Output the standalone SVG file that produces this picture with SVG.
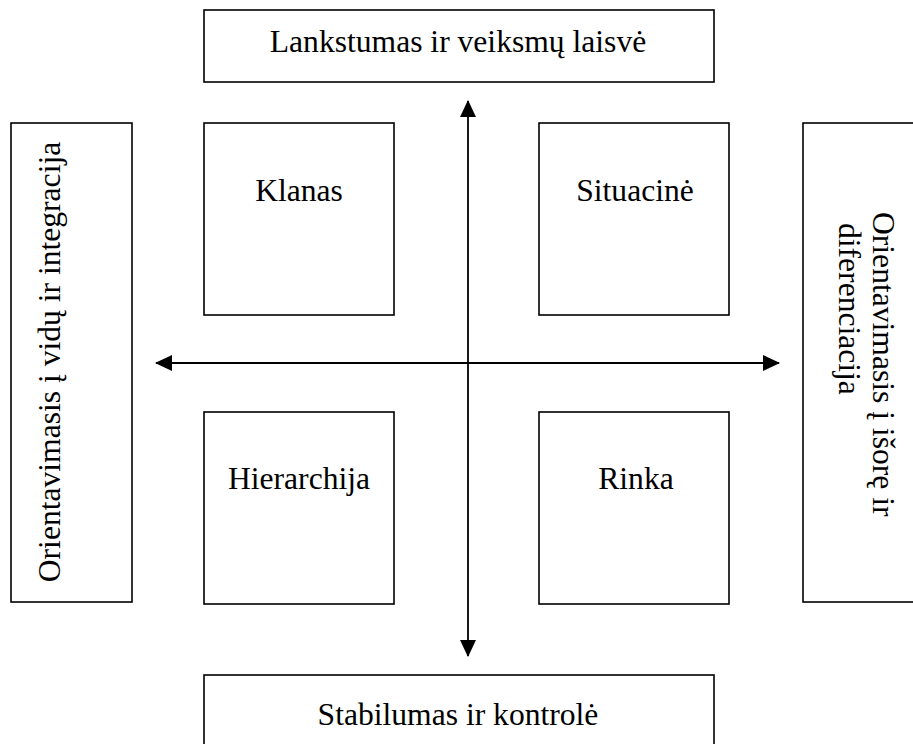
<svg xmlns="http://www.w3.org/2000/svg" width="913" height="744" viewBox="0 0 913 744">
<style>
.box{fill:#fff;stroke:#000;stroke-width:1.6}
.t{font-family:"Liberation Serif","Times New Roman",serif;font-size:31.6px;fill:#000}
.c{text-anchor:middle}
.ax{stroke:#000;stroke-width:1.8;fill:none}
</style>
<defs>
<marker id="ah" markerUnits="userSpaceOnUse" markerWidth="17" markerHeight="16" refX="16" refY="8" orient="auto-start-reverse" viewBox="0 0 17 16">
<path d="M0,0 L17,8 L0,16 z" fill="#000"/>
</marker>
</defs>
<rect width="913" height="744" fill="#fff"/>
<g id="top">
<rect class="box" x="204" y="10" width="510" height="72"/>
<text class="t c" x="458" y="52">Lankstumas ir veiksmų laisvė</text>
</g>
<g id="bottom">
<rect class="box" x="204" y="675" width="510" height="80"/>
<text class="t c" x="458" y="725">Stabilumas ir kontrolė</text>
</g>
<g id="left">
<rect class="box" x="11" y="123" width="121" height="479"/>
<text class="t c" transform="translate(60,362) rotate(-90)" x="0" y="0">Orientavimasis į vidų ir integracija</text>
</g>
<g id="right">
<rect class="box" x="803" y="123" width="120" height="479"/>
<text class="t" transform="translate(873,212) rotate(90)" x="0" y="0">Orientavimasis į išorę ir</text>
<text class="t" transform="translate(839,223) rotate(90)" x="0" y="0">diferenciacija</text>
</g>
<g id="klanas">
<rect class="box" x="204" y="123" width="190" height="192"/>
<text class="t c" x="299" y="201">Klanas</text>
</g>
<g id="situacine">
<rect class="box" x="539" y="123" width="190" height="192"/>
<text class="t c" x="635" y="201">Situacinė</text>
</g>
<g id="hierarchija">
<rect class="box" x="204" y="412" width="190" height="192"/>
<text class="t c" x="299" y="489">Hierarchija</text>
</g>
<g id="rinka">
<rect class="box" x="539" y="412" width="190" height="192"/>
<text class="t c" x="636" y="489">Rinka</text>
</g>
<g id="connectors">
<line class="ax" x1="156" y1="363" x2="779" y2="363" marker-start="url(#ah)" marker-end="url(#ah)"/>
<line class="ax" x1="468" y1="101" x2="468" y2="656" marker-start="url(#ah)" marker-end="url(#ah)"/>
</g>
</svg>
